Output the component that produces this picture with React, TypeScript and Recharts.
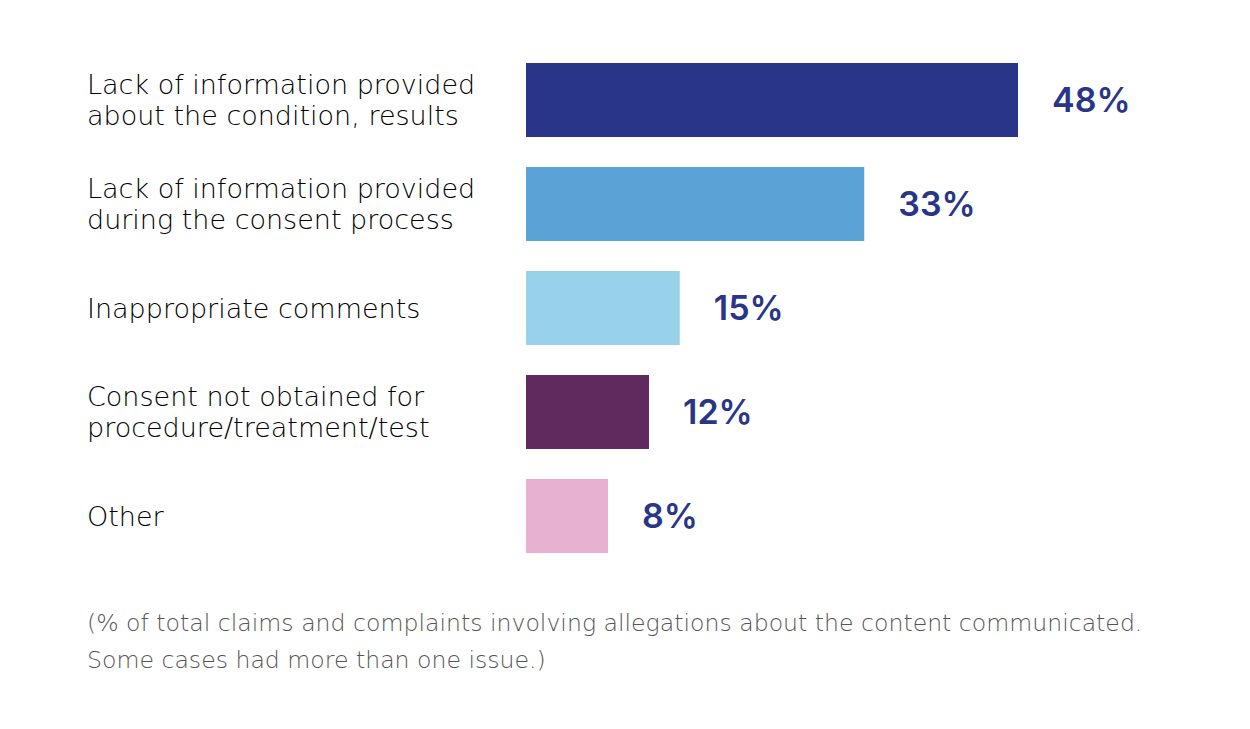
import React from "react";
import { BarChart, Bar, XAxis, YAxis, Cell, LabelList } from "recharts";

const categories = [
  "Lack of information provided\nabout the condition, results",
  "Lack of information provided\nduring the consent process",
  "Inappropriate comments",
  "Consent not obtained for\nprocedure/treatment/test",
  "Other",
];
const values = [48, 33, 15, 12, 8];
const colors = ["#293589", "#5BA3D7", "#98D1EA", "#612A5E", "#E7B1D2"];
const footnote = [
  "(% of total claims and complaints involving allegations about the content communicated.",
  "Some cases had more than one issue.)",
];

const data = categories.map((name, i) => ({ name, value: values[i] }));

const FONT = "'DejaVu Sans', sans-serif";
const NUM_FONT = "Inter, 'DejaVu Sans', sans-serif";

function CategoryTick(props: any) {
  const { y, payload } = props;
  const lines = String(payload.value).split("\n");
  const lineH = 31;
  const startY = y - ((lines.length - 1) * lineH) / 2;
  return (
    <text x={87} y={startY} textAnchor="start" fill="#000" fontSize={27} fontWeight={300} fontFamily={FONT}>
      {lines.map((l, i) => (
        <tspan key={i} x={87} y={startY + i * lineH} dominantBaseline="central">
          {l}
        </tspan>
      ))}
    </text>
  );
}

export default function App() {
  return (
    <div style={{ position: "relative", width: 1250, height: 729, margin: -8, background: "#fff", fontFamily: FONT }}>
      <BarChart
        width={1250}
        height={600}
        data={data}
        layout="vertical"
        margin={{ top: 48, right: 6.5, bottom: 32, left: 0 }}
        barCategoryGap={15}
      >
        <XAxis type="number" domain={[0, 70]} hide />
        <YAxis
          type="category"
          dataKey="name"
          width={526}
          axisLine={false}
          tickLine={false}
          tick={<CategoryTick />}
          interval={0}
        />
        <Bar dataKey="value" isAnimationActive={false}>
          {data.map((d, i) => (
            <Cell key={d.name} fill={colors[i]} />
          ))}
          <LabelList
            dataKey="value"
            position="right"
            offset={34}
            formatter={(v: any) => `${v}%`}
            style={{ fontSize: 34, fontWeight: 600, fill: "#293589", fontFamily: NUM_FONT }}
          />
        </Bar>
      </BarChart>
      <div
        style={{
          position: "absolute",
          left: 87,
          top: 605,
          fontSize: 23.6,
          fontWeight: 300,
          lineHeight: "37px",
          color: "#555",
          whiteSpace: "nowrap",
        }}
      >
        {footnote.map((l) => (
          <div key={l}>{l}</div>
        ))}
      </div>
    </div>
  );
}
